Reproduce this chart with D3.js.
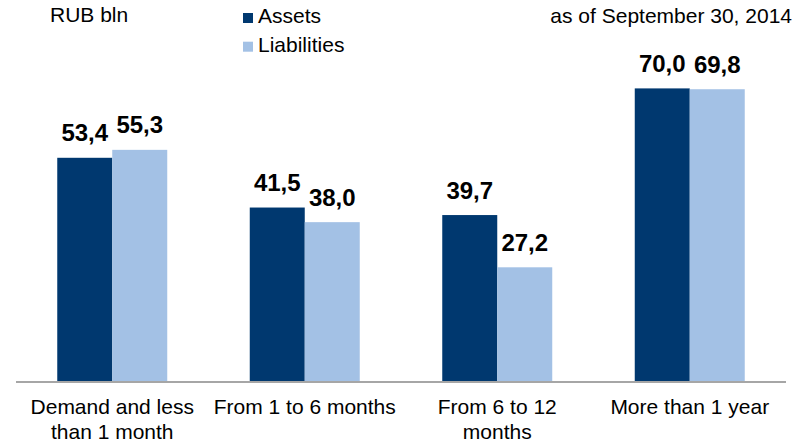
<!DOCTYPE html>
<html>
<head>
<meta charset="utf-8">
<script src="https://cdn.jsdelivr.net/npm/d3@7"></script>
<style>
  html, body { margin: 0; padding: 0; background: #ffffff; }
  svg { display: block; font-family: "Liberation Sans", Arial, sans-serif; }
</style>
</head>
<body>
<svg id="chart" width="809" height="443"></svg>
<script>
// Maturity buckets and balances, RUB bln
const categories = [
  "Demand and less than 1 month",
  "From 1 to 6 months",
  "From 6 to 12 months",
  "More than 1 year"
];
const seriesNames = ["Assets", "Liabilities"];
const assets = [53.4, 41.5, 39.7, 70.0];
const liabilities = [55.3, 38.0, 27.2, 69.8];
const seriesColors = ["#00386F", "#A3C1E5"];

const unitLabel = "RUB bln";
const dateLabel = "as of September 30, 2014";

const svg = d3.select("#chart");

const x = d3.scaleBand()
  .domain(categories)
  .range([16, 786])
  .paddingInner(0.4286)
  .paddingOuter(0.2143);

const xs = d3.scaleBand()
  .domain(seriesNames)
  .range([0, x.bandwidth()]);

const y = d3.scaleLinear()
  .domain([0, 70])
  .range([381, 88.4]);

const color = d3.scaleOrdinal().domain(seriesNames).range(seriesColors);

const rows = categories.map((c, i) => ({
  category: c,
  values: [
    { series: "Assets", value: assets[i] },
    { series: "Liabilities", value: liabilities[i] }
  ]
}));

const fmt = v => d3.format(".1f")(v).replace(".", ",");

const groups = svg.append("g")
  .selectAll("g")
  .data(rows)
  .join("g")
  .attr("transform", d => `translate(${x(d.category)},0)`);

groups.selectAll("rect")
  .data(d => d.values)
  .join("rect")
  .attr("x", d => xs(d.series))
  .attr("y", d => y(d.value))
  .attr("width", xs.bandwidth())
  .attr("height", d => y(0) - y(d.value))
  .attr("fill", d => color(d.series));

groups.selectAll("text.value")
  .data(d => d.values)
  .join("text")
  .attr("class", "value")
  .attr("x", d => xs(d.series) + xs.bandwidth() / 2)
  .attr("y", d => y(d.value) - 16.5)
  .attr("text-anchor", "middle")
  .attr("font-size", "24px")
  .attr("font-weight", "bold")
  .attr("fill", "#000")
  .text(d => fmt(d.value));

// Category axis: baseline rule plus wrapped labels
const xAxis = d3.axisBottom(x).tickSize(0).tickPadding(0);
const axisG = svg.append("g")
  .attr("transform", `translate(0,${y(0) + 1})`)
  .call(xAxis);
axisG.select(".domain")
  .attr("stroke", "#A6A6A6")
  .attr("stroke-width", 2)
  .attr("d", `M16,0H786`);

axisG.selectAll(".tick text")
  .attr("font-family", "'Liberation Sans', Arial, sans-serif")
  .attr("font-size", "21px")
  .attr("fill", "#000")
  .attr("y", 32)
  .attr("dy", 0)
  .each(function(d) {
    const text = d3.select(this);
    const words = d.split(" ");
    text.text(null);
    let line = [];
    let lineNo = 0;
    let tspan = text.append("tspan").attr("x", 0).attr("y", 32);
    words.forEach(w => {
      line.push(w);
      tspan.text(line.join(" "));
      if (tspan.node().getComputedTextLength() > 188 && line.length > 1) {
        line.pop();
        tspan.text(line.join(" "));
        line = [w];
        lineNo += 1;
        tspan = text.append("tspan").attr("x", 0).attr("y", 32 + lineNo * 24.5).text(w);
      }
    });
  });

// Header texts
svg.append("text")
  .attr("x", 50).attr("y", 22)
  .attr("font-size", "21px").attr("fill", "#000")
  .text(unitLabel);

svg.append("text")
  .attr("x", 792).attr("y", 23)
  .attr("text-anchor", "end")
  .attr("font-size", "21px").attr("fill", "#000")
  .text(dateLabel);

// Legend
const legend = svg.append("g")
  .selectAll("g")
  .data(seriesNames)
  .join("g")
  .attr("transform", (d, i) => `translate(243,${13 + i * 28.7})`);

legend.append("rect")
  .attr("width", 10).attr("height", 10)
  .attr("fill", d => color(d));

legend.append("text")
  .attr("x", 15).attr("y", 10.3)
  .attr("font-size", "21px").attr("fill", "#000")
  .text(d => d);
</script>
</body>
</html>
